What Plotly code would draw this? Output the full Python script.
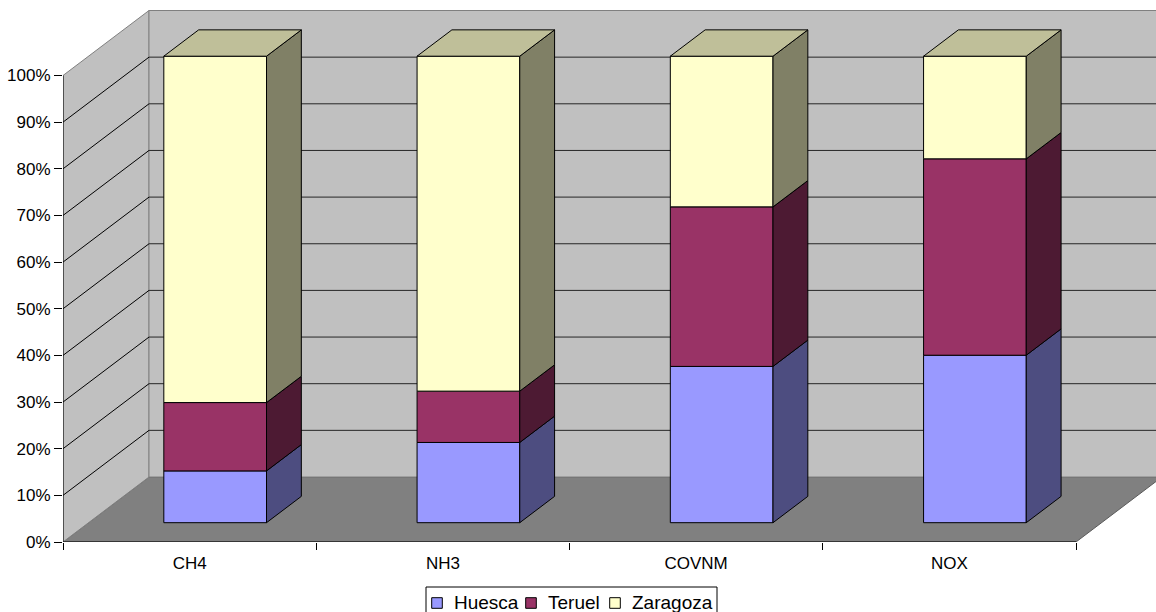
import plotly.graph_objects as go

# --- data -------------------------------------------------------------
categories = ["CH4", "NH3", "COVNM", "NOX"]
series_names = ["Huesca", "Teruel", "Zaragoza"]
huesca = [11.1, 17.2, 33.5, 35.9]
teruel = [14.65, 11.0, 34.2, 42.1]
zaragoza = [74.25, 71.8, 32.3, 22.0]
y_tick_values = [0, 10, 20, 30, 40, 50, 60, 70, 80, 90, 100]
y_tick_labels = ["0%", "10%", "20%", "30%", "40%", "50%", "60%", "70%", "80%", "90%", "100%"]

# --- styling ------------------------------------------------------------
front_colors = ["#9999FF", "#993366", "#FFFFCC"]
side_colors = ["#4D4D80", "#4D1A33", "#808066"]
top_colors = ["#7373BF", "#73264D", "#BFBF99"]
wall_color = "#C0C0C0"
floor_color = "#808080"
edge_color = "#808080"
FONT = "Liberation Sans, Arial, sans-serif"
AXIS_FONT_SIZE = 17
LEGEND_FONT_SIZE = 19

# --- oblique projection geometry (axis units) ---------------------------
WIDTH, HEIGHT = 1156, 612
M_LEFT, M_BOTTOM = 63, 70
PLOT_W, PLOT_H = WIDTH - M_LEFT, HEIGHT - M_BOTTOM
PX_PER_CAT = 253.25
PX_PER_PCT = 4.665
DEPTH_X = 86 / PX_PER_CAT      # horizontal shift of the full depth
DEPTH_Y = 65 / PX_PER_PCT      # vertical shift of the full depth
T_FRONT, T_BACK = 0.297, 0.702  # bar depth span as fraction of full depth
BAR_W = 0.4055
X_MAX = PLOT_W / PX_PER_CAT
Y_MAX = PLOT_H / PX_PER_PCT
N = len(categories)

series = [huesca, teruel, zaragoza]

fig = go.Figure()


def path(points):
    return "M " + " L ".join(f"{x},{y}" for x, y in points) + " Z"


# --- walls, floor and gridlines ----------------------------------------
shapes = []
shapes.append(dict(type="path", xref="x", yref="y", layer="below",
                   path=path([(0, 0), (N, 0), (N + DEPTH_X, DEPTH_Y), (DEPTH_X, DEPTH_Y)]),
                   fillcolor=floor_color, line=dict(color="#5a5a5a", width=1)))
shapes.append(dict(type="path", xref="x", yref="y", layer="below",
                   path=path([(0, 0), (0, 100), (DEPTH_X, 100 + DEPTH_Y), (DEPTH_X, DEPTH_Y)]),
                   fillcolor=wall_color, line=dict(color=edge_color, width=1)))
shapes.append(dict(type="path", xref="x", yref="y", layer="below",
                   path=path([(DEPTH_X, DEPTH_Y), (DEPTH_X, 100 + DEPTH_Y),
                              (N + DEPTH_X, 100 + DEPTH_Y), (N + DEPTH_X, DEPTH_Y)]),
                   fillcolor=wall_color, line=dict(color=edge_color, width=1)))
for v in y_tick_values[1:-1]:
    shapes.append(dict(type="line", xref="x", yref="y", layer="below",
                       x0=0, y0=v, x1=DEPTH_X, y1=v + DEPTH_Y,
                       line=dict(color="#000000", width=1)))
    shapes.append(dict(type="line", xref="x", yref="y", layer="below",
                       x0=DEPTH_X, y0=v + DEPTH_Y, x1=N + DEPTH_X, y1=v + DEPTH_Y,
                       line=dict(color="#262626", width=1)))
# value axis line and category axis line on the front plane
shapes.append(dict(type="line", xref="x", yref="y", layer="below",
                   x0=0, y0=0, x1=0, y1=100, line=dict(color="#000000", width=1)))
shapes.append(dict(type="line", xref="x", yref="y", layer="below",
                   x0=0, y0=0, x1=N, y1=0, line=dict(color="#000000", width=1)))

# --- bars: front faces ----------------------------------------------------
off_front = T_FRONT * DEPTH_Y
off_back = T_BACK * DEPTH_Y
dx_side = (T_BACK - T_FRONT) * DEPTH_X
centers = [i + 0.5 + T_FRONT * DEPTH_X for i in range(N)]

bases = [[0.0] * N]
for s in series[:-1]:
    bases.append([b + v for b, v in zip(bases[-1], s)])

for k, (name, vals) in enumerate(zip(series_names, series)):
    fig.add_trace(go.Bar(
        x=centers, y=vals, base=[b + off_front for b in bases[k]],
        width=BAR_W, name=name, showlegend=False,
        marker=dict(color=front_colors[k], line=dict(color="#000000", width=1)),
        hoverinfo="skip",
    ))

# --- bars: side and top faces --------------------------------------------
for k, vals in enumerate(series):
    for i in range(N):
        y0 = bases[k][i]
        y1 = y0 + vals[i]
        xr = centers[i] + BAR_W / 2
        xl = centers[i] - BAR_W / 2
        fig.add_trace(go.Scatter(
            x=[xr, xr, xr + dx_side, xr + dx_side, xr],
            y=[y0 + off_front, y1 + off_front, y1 + off_back, y0 + off_back, y0 + off_front],
            mode="lines", fill="toself", fillcolor=side_colors[k],
            line=dict(color="#000000", width=1), showlegend=False, hoverinfo="skip",
        ))
        if k == len(series) - 1:
            fig.add_trace(go.Scatter(
                x=[xl, xr, xr + dx_side, xl + dx_side, xl],
                y=[y1 + off_front, y1 + off_front, y1 + off_back, y1 + off_back, y1 + off_front],
                mode="lines", fill="toself", fillcolor=top_colors[k],
                line=dict(color="#000000", width=1), showlegend=False, hoverinfo="skip",
            ))

# --- legend (boxed, one row, below the category axis) ---------------------
def px_x(px):
    return (px - M_LEFT) / PLOT_W


def px_y(py):
    return (PLOT_H - py) / PLOT_H


LEG_LEFT, LEG_RIGHT, LEG_TOP = 426, 717, 587
MARK = 10.6
legend_text_px = [66, 56, 80]   # approximate rendered widths of the labels
annotations = []
shapes.append(dict(type="rect", xref="paper", yref="paper",
                   x0=px_x(LEG_LEFT), x1=px_x(LEG_RIGHT), y0=px_y(LEG_TOP), y1=px_y(HEIGHT + 8),
                   fillcolor="white", line=dict(color="#000000", width=1), layer="above"))
cursor = LEG_LEFT + 5.7
for k, name in enumerate(series_names):
    shapes.append(dict(type="rect", xref="paper", yref="paper",
                       x0=px_x(cursor), x1=px_x(cursor + MARK),
                       y0=px_y(597.7 + MARK), y1=px_y(597.7),
                       fillcolor=front_colors[k], line=dict(color="#000000", width=1),
                       layer="above"))
    annotations.append(dict(xref="paper", yref="paper", x=px_x(cursor + 20), y=px_y(602.5),
                            xanchor="left", yanchor="middle", showarrow=False, text=name,
                            font=dict(family=FONT, size=LEGEND_FONT_SIZE, color="#000000")))
    cursor += 20 + legend_text_px[k] + 8

fig.update_layout(
    width=WIDTH, height=HEIGHT,
    margin=dict(l=M_LEFT, r=0, t=0, b=M_BOTTOM, autoexpand=False),
    paper_bgcolor="white", plot_bgcolor="white",
    barmode="overlay",
    shapes=shapes,
    annotations=annotations,
    font=dict(family=FONT, size=AXIS_FONT_SIZE, color="#000000"),
    showlegend=False,
    xaxis=dict(range=[0, X_MAX], showgrid=False, zeroline=False, showline=False,
               tickmode="array", tickvals=[i + 0.5 for i in range(N)], ticktext=categories,
               ticks="outside", ticklen=6, tickcolor="rgba(0,0,0,0)",
               minor=dict(tickmode="array", tickvals=list(range(N + 1)), ticks="outside",
                          ticklen=7, tickcolor="#000000", tickwidth=1),
               tickfont=dict(size=AXIS_FONT_SIZE), fixedrange=True),
    yaxis=dict(range=[0, Y_MAX], showgrid=False, zeroline=False, showline=False,
               tickmode="array", tickvals=y_tick_values, ticktext=y_tick_labels,
               ticks="outside", ticklen=8, tickcolor="#000000", tickwidth=1,
               tickfont=dict(size=AXIS_FONT_SIZE), automargin=False, fixedrange=True),
)

fig.write_html("out.html")
